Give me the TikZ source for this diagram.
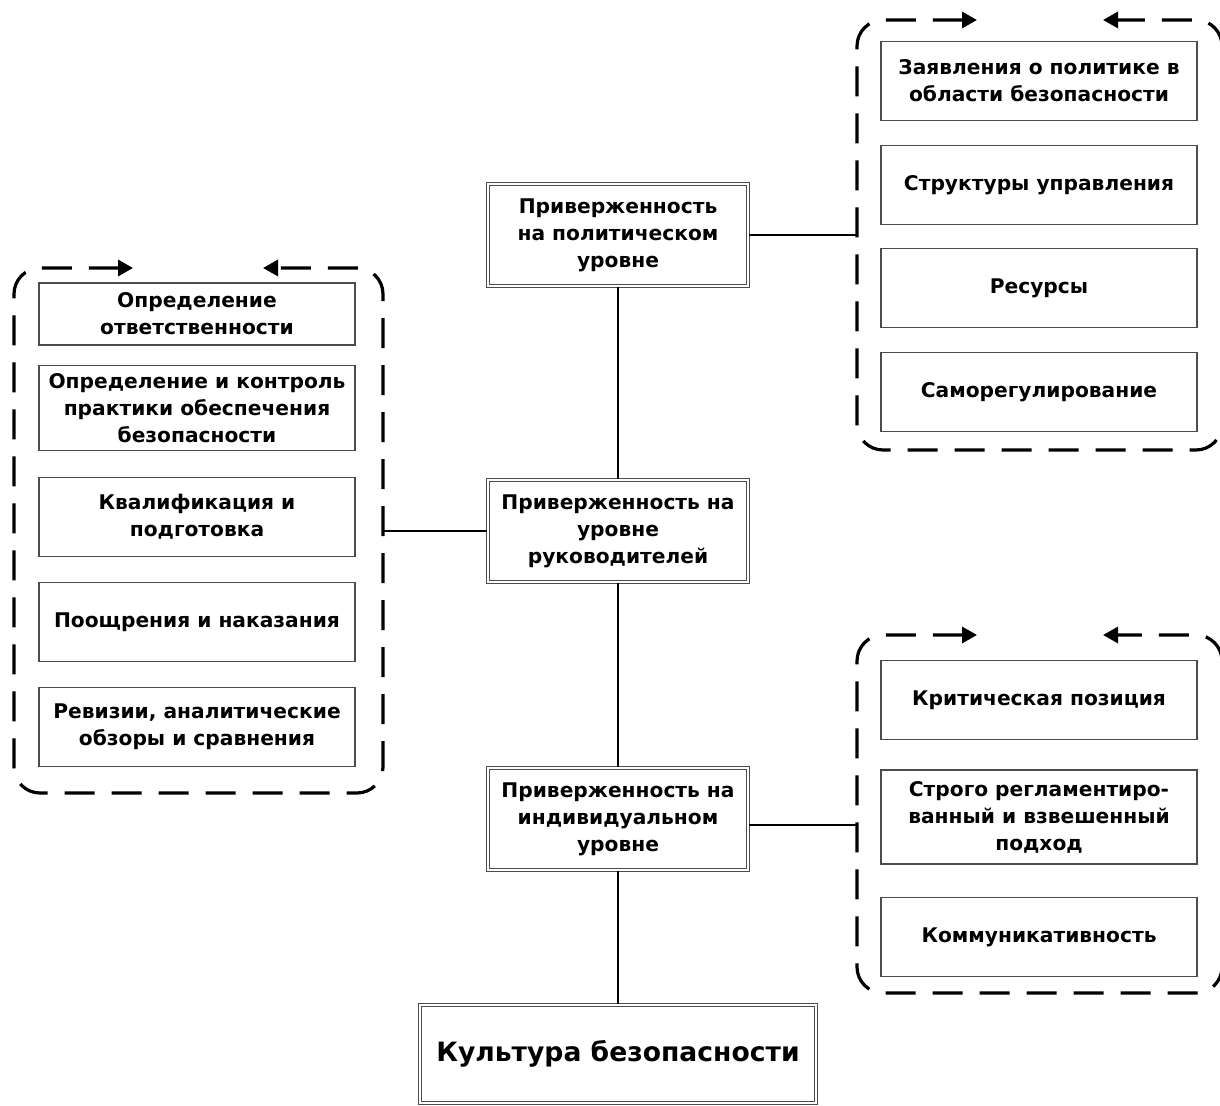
\documentclass[tikz,border=0pt]{standalone}
\usepackage{fontspec}
\setmainfont{DejaVu Sans}
\usetikzlibrary{arrows.meta}

\begin{document}
\begin{tikzpicture}[x=0.5pt,y=-0.5pt]
                \useasboundingbox (0,0) rectangle (1220,1106);
                \begin{scope}[every node/.style={draw=black!70, line width=0.6pt, align=center, inner sep=0pt, font=\bfseries\fontsize{10.1}{13.5}\selectfont},
                              item/.style={minimum width=158pt, minimum height=39.5pt},
                              level/.style={double, double distance=0.8pt, minimum width=130pt, minimum height=51pt},
                              every edge/.style={draw, line width=1.2pt}]
                        \node [item] (A1) at (1039,81) {Заявления о политике в\\области безопасности};
                        \node [item] (A2) at (1039,185) {Структуры управления};
                        \node [item] (A3) at (1039,288) {Ресурсы};
                        \node [item] (A4) at (1039,392) {Саморегулирование};

                        \node [item, minimum height=31pt] (B1) at (197,314) {Определение\\ответственности};
                        \node [item, minimum height=42.5pt] (B2) at (197,408) {Определение и контроль\\практики обеспечения\\безопасности};
                        \node [item] (B3) at (197,517) {Квалификация и\\подготовка};
                        \node [item] (B4) at (197,622) {Поощрения и наказания};
                        \node [item] (B5) at (197,727) {Ревизии, аналитические\\обзоры и сравнения};

                        \node [item] (C1) at (1039,700) {Критическая позиция};
                        \node [item, minimum height=47pt] (C2) at (1039,817) {Строго регламентиро-\\ванный и взвешенный\\подход};
                        \node [item] (C3) at (1039,937) {Коммуникативность};

                        \node [level] (P1) at (618,235) {Приверженность\\на политическом\\уровне};
                        \node [level] (P2) at (618,531) {Приверженность на\\уровне\\руководителей};
                        \node [level] (P3) at (618,819) {Приверженность на\\индивидуальном\\уровне};
                        \node [level, minimum width=198pt, minimum height=49pt, font=\bfseries\fontsize{13.3}{16}\selectfont] (K) at (618,1054) {Культура безопасности};

                        \coordinate (GA) at (857,20);
                        \coordinate (GB) at (383,268);
                        \coordinate (GC) at (857,635);

                        \path (P1) edge (P2);
                        \path (P2) edge (P3);
                        \path (P3) edge (K);
                        \path (P1.east) edge (P1.east -| GA);
                        \path (P2.west) edge (P2.west -| GB);
                        \path ([yshift=-3pt]P3.east) edge ([yshift=-3pt]P3.east -| GC);
               \end{scope}
               \begin{scope}[line width=1.6pt, dash pattern=on 15pt off 8.5pt, rounded corners=13pt, {Triangle[length=7.5pt,width=8pt]}-{Triangle[length=7.5pt,width=8pt]}]
                        \draw (977,20) -- (857,20) -- (857,450) -- (1222,450) -- (1222,20) -- (1103,20);
                        \draw (133,268) -- (14,268) -- (14,793) -- (383,793) -- (383,268) -- (263,268);
                        \draw (977,635) -- (857,635) -- (857,993) -- (1222,993) -- (1222,635) -- (1103,635);
               \end{scope}
\end{tikzpicture}
\end{document}
